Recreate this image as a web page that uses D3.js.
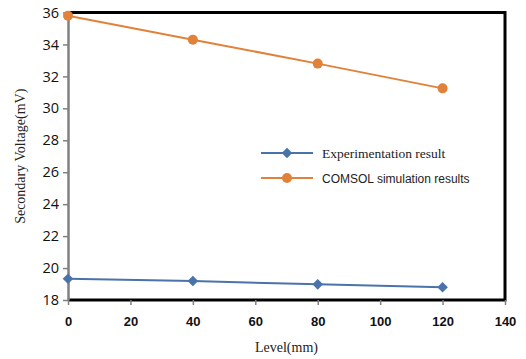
<!DOCTYPE html>
<html>
<head>
<meta charset="utf-8">
<script src="https://cdn.jsdelivr.net/npm/d3@7"></script>
<style>
  body { margin: 0; background: #fff; }
  svg { display: block; }
</style>
</head>
<body>
<div class="chart"></div>
<script>
const levels = [0, 40, 80, 120];
const experiment = [19.33, 19.19, 18.98, 18.8];
const comsol = [35.8, 34.3, 32.8, 31.25];
const xTicks = [0, 20, 40, 60, 80, 100, 120, 140];
const yTicks = [18, 20, 22, 24, 26, 28, 30, 32, 34, 36];
const seriesNames = ["Experimentation result", "COMSOL simulation results"];

const width = 526, height = 359;
const margin = { left: 68, right: 21, top: 12.5, bottom: 59 };

const svg = d3.select(".chart").append("svg")
  .attr("width", width)
  .attr("height", height);

const x = d3.scaleLinear().domain([0, 140]).range([margin.left, width - margin.right]);
const y = d3.scaleLinear().domain([18, 36]).range([height - margin.bottom, margin.top]);

// frame: black top/right/bottom
svg.append("path")
  .attr("d", `M${x(0)},${y(36)} H${x(140)} V${y(18)} H${x(0)}`)
  .attr("fill", "none")
  .attr("stroke", "#000")
  .attr("stroke-width", 3);

// y axis
const yAxis = svg.append("g")
  .attr("transform", `translate(${x(0)},0)`)
  .call(d3.axisLeft(y).tickValues(yTicks).tickSize(5).tickSizeOuter(0).tickFormat(d3.format("d")));
yAxis.select(".domain").attr("stroke", "#808080").attr("stroke-width", 2.5);
yAxis.selectAll(".tick line").attr("stroke", "#808080").attr("stroke-width", 1.5);
yAxis.selectAll("text")
  .attr("font-family", "Open Sans, Liberation Sans, sans-serif")
  .attr("font-size", 14.5)
  .attr("fill", "#111")
  .attr("x", -9);

// x axis
const xAxis = svg.append("g")
  .attr("transform", `translate(0,${y(18)})`)
  .call(d3.axisBottom(x).tickValues(xTicks).tickSize(5).tickSizeOuter(0));
xAxis.select(".domain").remove();
xAxis.selectAll(".tick line").attr("stroke", "#808080").attr("stroke-width", 1.5);
xAxis.selectAll("text")
  .attr("font-family", "Liberation Sans, Arial, sans-serif")
  .attr("font-weight", "bold")
  .attr("font-size", 13)
  .attr("fill", "#111")
  .attr("y", 17);

// axis titles
svg.append("text")
  .attr("x", (x(0) + x(140)) / 2)
  .attr("y", 352)
  .attr("text-anchor", "middle")
  .attr("font-family", "Liberation Serif, Times New Roman, serif")
  .attr("font-size", 14)
  .attr("fill", "#222")
  .text("Level(mm)");

svg.append("text")
  .attr("transform", `translate(25,${(y(18) + y(36)) / 2}) rotate(-90)`)
  .attr("text-anchor", "middle")
  .attr("font-family", "Liberation Serif, Times New Roman, serif")
  .attr("font-size", 14)
  .attr("fill", "#222")
  .text("Secondary Voltage(mV)");

const line = d3.line().x(d => x(d[0])).y(d => y(d[1]));
const blue = "#4a73a9", orange = "#e0823a";

const expData = levels.map((l, i) => [l, experiment[i]]);
const comData = levels.map((l, i) => [l, comsol[i]]);

svg.append("path").datum(expData).attr("d", line)
  .attr("fill", "none").attr("stroke", blue).attr("stroke-width", 2);
svg.append("path").datum(comData).attr("d", line)
  .attr("fill", "none").attr("stroke", orange).attr("stroke-width", 2);

// square rotated 45 degrees for the diamond marker
const diamond = d3.symbol().type(d3.symbolSquare).size(56);
svg.selectAll(".exp-pt").data(expData).enter().append("path")
  .attr("class", "exp-pt")
  .attr("d", diamond)
  .attr("transform", d => `translate(${x(d[0])},${y(d[1])}) rotate(45)`)
  .attr("fill", blue);

svg.selectAll(".com-pt").data(comData).enter().append("circle")
  .attr("class", "com-pt")
  .attr("cx", d => x(d[0])).attr("cy", d => y(d[1]))
  .attr("r", 5)
  .attr("fill", orange);

// legend
const legend = svg.append("g").attr("transform", "translate(261,153)");
const colors = [blue, orange];
seriesNames.forEach((name, i) => {
  const g = legend.append("g").attr("transform", `translate(0,${i * 25})`);
  g.append("line").attr("x1", 0).attr("x2", 52).attr("y1", 0).attr("y2", 0)
    .attr("stroke", colors[i]).attr("stroke-width", 2);
  if (i === 0) {
    g.append("path").attr("d", diamond).attr("transform", "translate(26,0) rotate(45)").attr("fill", colors[i]);
  } else {
    g.append("circle").attr("cx", 26).attr("cy", 0).attr("r", 5).attr("fill", colors[i]);
  }
  g.append("text")
    .attr("x", 61).attr("y", 4.5)
    .attr("font-family", i === 0 ? "Liberation Serif, Times New Roman, serif" : "Liberation Sans, Arial, sans-serif")
    .attr("font-size", i === 0 ? 13.5 : 12)
    .attr("fill", "#222")
    .text(name);
});
</script>
</body>
</html>
